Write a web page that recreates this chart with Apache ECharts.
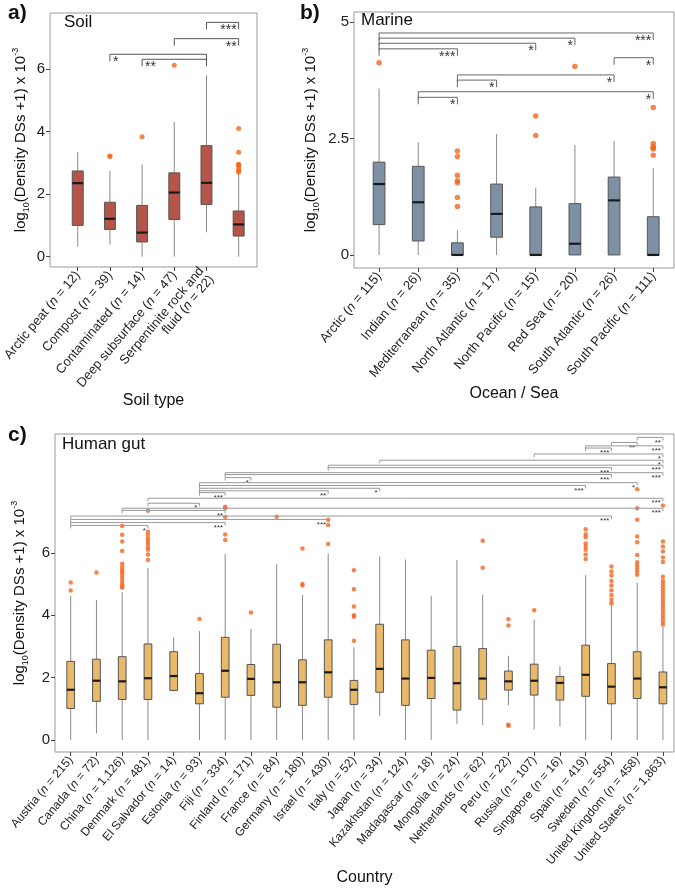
<!DOCTYPE html>
<html>
<head>
<meta charset="utf-8">
<script src="https://cdn.jsdelivr.net/npm/echarts@6/dist/echarts.min.js"></script>
<style>
html, body { margin: 0; padding: 0; background: #fff; }
#chart { width: 675px; height: 888px; }
</style>
</head>
<body>
<div id="chart"></div>
<script>
var myChart = echarts.init(document.getElementById("chart"));

// a) soil
var soilNames = ["Arctic peat ", "Compost ", "Contaminated ", "Deep subsurface ", "Serpentinite rock and\nfluid ", "Soil\n"];
var soilN = ["12", "39", "14", "47", "22", "218"];
// [low whisker, Q1, median, Q3, high whisker]
var soilBoxes = [
	[0.32, 1.0, 2.35, 2.74, 3.35],
	[0.39, 0.87, 1.21, 1.74, 2.75],
	[0, 0.47, 0.77, 1.64, 2.95],
	[0, 1.19, 2.05, 2.68, 4.3],
	[0.78, 1.67, 2.36, 3.55, 5.8],
	[0, 0.66, 1.03, 1.46, 2.66]
];
var soilOutliers = [[], [3.21, 3.21], [3.83], [6.12], [], [4.1, 3.34, 2.95, 2.95, 2.9, 2.8, 2.75, 2.7]];
// [from, to, height, number of stars]
var soilBrackets = [[4, 5, 7.49, 3], [3, 5, 6.97, 2], [4, 1, 6.47, 1], [4, 2, 6.31, 2]];
var soilTicks = [0, 2, 4, 6];

// b) marine
var marineNames = ["Arctic ", "Indian ", "Mediterranean ", "North Atlantic ", "North Pacific ", "Red Sea ", "South Atlantic ", "South Pacific "];
var marineN = ["115", "26", "35", "17", "15", "20", "26", "111"];
var marineBoxes = [
	[0, 0.65, 1.52, 1.99, 3.57],
	[0, 0.30, 1.13, 1.90, 2.41],
	[0, 0, 0, 0.26, 0.53],
	[0, 0.38, 0.88, 1.52, 2.59],
	[0, 0, 0, 1.03, 1.44],
	[0, 0, 0.24, 1.10, 2.36],
	[0, 0, 1.17, 1.67, 2.44],
	[0, 0, 0, 0.82, 1.86]
];
var marineOutliers = [[4.12], [], [2.23, 2.11, 1.71, 1.59, 1.55, 1.23, 1.04], [], [2.56, 2.98], [4.04], [], [3.16, 2.39, 2.32, 2.30, 2.27, 2.14]];
var marineBrackets = [
	[0, 7, 4.76, 3], [0, 5, 4.65, 1], [0, 4, 4.54, 1], [0, 2, 4.42, 3],
	[6, 7, 4.23, 1], [2, 6, 3.86, 1], [2, 3, 3.75, 1], [1, 7, 3.50, 1], [1, 2, 3.38, 1]
];
var marineTicks = [0, 2.5, 5];

// c) human gut
var gutNames = ["Austria ", "Canada ", "China ", "Denmark ", "El Salvador ", "Estonia ", "Fiji ", "Finland ", "France ", "Germany ", "Israel ", "Italy ",
	"Japan ", "Kazakhstan ", "Madagascar ", "Mongolia ", "Netherlands ", "Peru ", "Russia ", "Singapore ", "Spain ", "Sweden ", "United Kingdom ", "United States "];
var gutN = ["215", "72", "1,126", "481", "14", "93", "334", "171", "84", "180", "430", "52",
	"34", "124", "18", "24", "62", "22", "107", "16", "419", "554", "458", "1,863"];
var gutBoxes = [
	[0, 1.01, 1.61, 2.52, 4.62],
	[0.21, 1.24, 1.90, 2.59, 4.49],
	[0, 1.30, 1.88, 2.67, 4.74],
	[0, 1.30, 1.98, 3.08, 5.51],
	[1.55, 1.59, 2.05, 2.83, 3.29],
	[0, 1.16, 1.50, 2.13, 3.49],
	[0, 1.37, 2.22, 3.29, 5.96],
	[0, 1.43, 1.96, 2.42, 3.57],
	[0, 1.05, 1.85, 3.07, 5.64],
	[0, 1.11, 1.85, 2.57, 4.65],
	[0, 1.37, 2.17, 3.21, 5.98],
	[0, 1.14, 1.61, 1.91, 2.97],
	[0.76, 1.53, 2.28, 3.71, 5.88],
	[0, 1.11, 1.97, 3.21, 5.79],
	[0, 1.33, 1.99, 2.88, 4.62],
	[0.51, 0.96, 1.82, 3.0, 5.77],
	[0.48, 1.31, 1.97, 2.93, 4.66],
	[1.11, 1.6, 1.88, 2.21, 2.7],
	[0.34, 1.44, 1.90, 2.43, 3.86],
	[0.43, 1.28, 1.83, 2.04, 2.36],
	[0, 1.40, 2.09, 3.04, 5.29],
	[0, 1.16, 1.71, 2.45, 4.35],
	[0, 1.33, 1.97, 2.83, 5.05],
	[0, 1.16, 1.69, 2.18, 3.63]
];
var gutOutliers = [
	[5.05, 4.79],
	[5.37],
	[6.86, 6.58, 6.36, 6.06, 5.65, 5.55, 5.45, 5.38, 5.3, 5.2, 5.1, 5.0, 4.93, 4.88],
	[7.35, 6.68, 6.58, 6.47, 6.38, 6.28, 6.18, 6.1, 5.95, 5.77],
	[],
	[3.88],
	[7.48, 7.43, 7.15, 6.59, 6.41],
	[4.09],
	[7.16],
	[6.14, 5.0, 4.95],
	[7.06, 6.89, 6.28],
	[5.44, 4.83, 4.28, 4.0, 3.95, 3.18],
	[], [], [], [],
	[6.39, 5.52],
	[3.87, 3.67, 0.49, 0.46],
	[4.16],
	[],
	[6.76, 6.6, 6.5, 6.3, 6.2, 6.1, 5.95, 5.8],
	[5.56, 5.4, 5.27, 5.1, 4.95, 4.8, 4.65, 4.5, 4.38],
	[8.04, 7.43, 7.06, 6.52, 6.34, 5.93, 5.7, 5.6, 5.5, 5.4, 5.3],
	[7.52, 6.36, 6.2, 6.04, 5.85, 5.71, 5.23, 5.1, 5.0, 4.9, 4.8, 4.7, 4.6, 4.5, 4.4, 4.3, 4.2, 4.1, 4.0, 3.9, 3.8, 3.7]
];
var gutBrackets = [
	[22, 23, 9.70, 2], [21, 22, 9.54, 2], [20, 23, 9.43, 3], [20, 21, 9.36, 3],
	[18, 23, 9.17, 1], [12, 23, 8.97, 1], [10, 23, 8.81, 3], [10, 21, 8.73, 3],
	[6, 23, 8.57, 3], [6, 21, 8.51, 3], [6, 7, 8.41, 1],
	[5, 22, 8.25, 1], [5, 20, 8.16, 3], [5, 12, 8.07, 1], [5, 10, 7.99, 2], [5, 6, 7.93, 3],
	[3, 23, 7.75, 3], [3, 5, 7.59, 1], [2, 23, 7.43, 3], [2, 6, 7.36, 2],
	[0, 21, 7.18, 3], [0, 10, 7.07, 3], [0, 6, 6.97, 3], [0, 3, 6.88, 1]
];
var gutTicks = [0, 2, 4, 6];

var FONT = "Liberation Sans";
var ORANGE = "#f4661f";

function boxData(boxes) {
	return boxes.map(function (b, i) { return [i].concat(b); });
}

function outlierData(list) {
	var out = [];
	list.forEach(function (vals, i) {
		vals.forEach(function (v) { out.push([i, v]); });
	});
	return out;
}

function nLabel(name, n) {
	var lines = (name + "(").split("\n");
	return lines.map(function (s, k) {
		var head = "{t|" + s + "}";
		return k === lines.length - 1 ? head + "{i|n}{t| = " + n + ")}" : head;
	}).join("\n");
}

function boxRenderer(fill, ratio) {
	return function (params, api) {
		var x = api.value(0);
		var lo = api.coord([x, api.value(1)]);
		var q1 = api.coord([x, api.value(2)]);
		var md = api.coord([x, api.value(3)]);
		var q3 = api.coord([x, api.value(4)]);
		var hi = api.coord([x, api.value(5)]);
		var w = api.size([1, 0])[0] * ratio;
		return {
			type: "group",
			children: [
				{ type: "line", shape: { x1: lo[0], y1: lo[1], x2: hi[0], y2: hi[1] }, style: { stroke: "#8a8a8a", lineWidth: 1 } },
				{ type: "rect", shape: { x: q1[0] - w / 2, y: q3[1], width: w, height: Math.max(q1[1] - q3[1], 1) }, style: { fill: fill, stroke: "#555", lineWidth: 1 } },
				{ type: "line", shape: { x1: md[0] - w / 2, y1: md[1], x2: md[0] + w / 2, y2: md[1] }, style: { stroke: "#1a1a1a", lineWidth: 2.2 } }
			]
		};
	};
}

function bracketRenderer(tick, fontSize, color) {
	return function (params, api) {
		var from = api.value(0), to = api.value(1), h = api.value(2);
		var a = api.coord([from, h]);
		var b = api.coord([to, h]);
		var right = to > from;
		return {
			type: "group",
			children: [
				{
					type: "polyline",
					shape: { points: [[a[0], a[1] + tick], [a[0], a[1]], [b[0], b[1]], [b[0], b[1] + tick]] },
					style: { stroke: color, lineWidth: 1, fill: null }
				},
				{
					type: "text",
					x: b[0] + (right ? -2 : 3),
					y: b[1] + 1,
					style: {
						text: new Array(api.value(3) + 1).join("*"),
						font: fontSize + "px " + FONT,
						fill: "#333",
						align: right ? "right" : "left",
						verticalAlign: "top"
					}
				}
			]
		};
	};
}

var labelRich = function (fs) {
	return {
		t: { fontSize: fs, fontFamily: FONT, color: "#222" },
		i: { fontSize: fs, fontFamily: FONT, color: "#222", fontStyle: "italic" }
	};
};

function makeX(gi, names, ns, min, max, title, fs, gap) {
	var idx = names.map(function (d, i) { return i; });
	return {
		gridIndex: gi,
		type: "value",
		min: min,
		max: max,
		name: title,
		nameLocation: "middle",
		nameGap: gap,
		nameTextStyle: { fontSize: 16, fontFamily: FONT, color: "#111" },
		axisLine: { show: false, onZero: false },
		splitLine: { show: false },
		axisTick: { show: true, customValues: idx, length: 4, lineStyle: { color: "#444" } },
		axisLabel: {
			customValues: idx,
			rotate: 50,
			margin: 6,
			formatter: function (v) { return nLabel(names[v], ns[v]); },
			rich: labelRich(fs)
		}
	};
}

var yName = "{a|log}{s|10}{a|(Density DSs +1) x 10}{p|-3}";
var yNameStyle = {
	rich: {
		a: { fontSize: 15, fontFamily: FONT, color: "#111", lineHeight: 20 },
		s: { fontSize: 9, fontFamily: FONT, color: "#111", verticalAlign: "bottom" },
		p: { fontSize: 9, fontFamily: FONT, color: "#111", verticalAlign: "top" }
	}
};

function makeY(gi, min, max, ticks, gap) {
	return {
		gridIndex: gi,
		type: "value",
		min: min,
		max: max,
		name: yName,
		nameLocation: "middle",
		nameGap: gap,
		nameTextStyle: yNameStyle,
		axisLine: { show: false, onZero: false },
		splitLine: { show: false },
		axisTick: { show: true, customValues: ticks, length: 4, lineStyle: { color: "#444" } },
		axisLabel: { customValues: ticks, fontSize: 15, fontFamily: FONT, color: "#222", margin: 5 }
	};
}

var gridStyle = { show: true, borderColor: "#999", borderWidth: 1, backgroundColor: "#fff" };

function panelSeries(gi, boxes, outliers, brackets, fill, ratio, dot, tick, starSize, bracketColor) {
	return [
		{
			type: "custom",
			xAxisIndex: gi,
			yAxisIndex: gi,
			renderItem: boxRenderer(fill, ratio),
			encode: { x: 0, y: [1, 2, 3, 4, 5] },
			data: boxData(boxes),
			silent: true,
			z: 2
		},
		{
			type: "scatter",
			xAxisIndex: gi,
			yAxisIndex: gi,
			symbolSize: dot,
			itemStyle: { color: ORANGE },
			data: outlierData(outliers),
			silent: true,
			z: 3
		},
		{
			type: "custom",
			xAxisIndex: gi,
			yAxisIndex: gi,
			renderItem: bracketRenderer(tick, starSize, bracketColor),
			encode: { x: [0, 1], y: 2 },
			data: brackets,
			silent: true,
			z: 4
		}
	];
}

var option = {
	animation: false,
	backgroundColor: "#fff",
	grid: [
		Object.assign({ left: 48, top: 13, width: 209, height: 254 }, gridStyle),
		Object.assign({ left: 354, top: 12, width: 320, height: 256 }, gridStyle),
		Object.assign({ left: 55, top: 434, width: 619, height: 318 }, gridStyle)
	],
	xAxis: [
		makeX(0, soilNames, soilN, -0.86, 5.57, "Soil type", 13, 119),
		makeX(1, marineNames, marineN, -0.64, 7.53, "Ocean / Sea", 13, 118),
		makeX(2, gutNames, gutN, -0.61, 23.43, "Country", 12, 117)
	],
	yAxis: [
		makeY(0, -0.33, 7.79, soilTicks, 19),
		makeY(1, -0.28, 5.21, marineTicks, 33),
		makeY(2, -0.385, 9.81, gutTicks, 25)
	],
	graphic: [
		{ type: "text", left: 8, top: 3, style: { text: "a)", font: "bold 21px " + FONT, fill: "#111" } },
		{ type: "text", left: 300, top: 3, style: { text: "b)", font: "bold 21px " + FONT, fill: "#111" } },
		{ type: "text", left: 8, top: 425, style: { text: "c)", font: "bold 21px " + FONT, fill: "#111" } },
		{ type: "text", left: 64, top: 14, style: { text: "Soil", font: "17px " + FONT, fill: "#111" } },
		{ type: "text", left: 361, top: 12, style: { text: "Marine", font: "17px " + FONT, fill: "#111" } },
		{ type: "text", left: 62, top: 436, style: { text: "Human gut", font: "17px " + FONT, fill: "#111" } }
	],
	series: [].concat(
		panelSeries(0, soilBoxes, soilOutliers, soilBrackets, "#b5554a", 0.34, 5, 7, 14, "#555"),
		panelSeries(1, marineBoxes, marineOutliers, marineBrackets, "#7e90a4", 0.3, 5.5, 7, 14, "#666"),
		panelSeries(2, gutBoxes, gutOutliers, gutBrackets, "#e9b96a", 0.3, 4.5, 3, 8, "#999")
	)
};

myChart.setOption(option);
</script>
</body>
</html>
